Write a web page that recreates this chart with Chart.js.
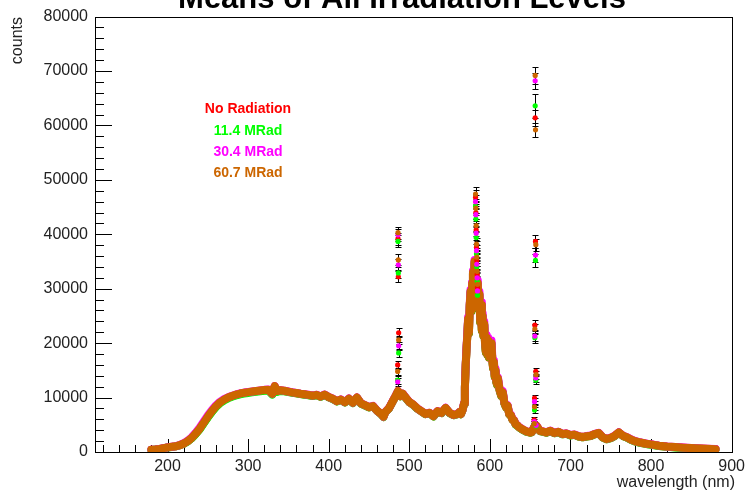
<!DOCTYPE html>
<html><head><meta charset="utf-8">
<script src="https://cdn.jsdelivr.net/npm/chart.js@4.4.0/dist/chart.umd.min.js"></script>
<style>html,body{margin:0;padding:0;background:#fff;}canvas{display:block;}</style>
</head><body>
<canvas id="c" width="750" height="492"></canvas>
<script>
const chartTitle = 'Means of All Irradiation Levels';
const xAxisTitle = 'wavelength (nm)';
const yAxisTitle = 'counts';
const seriesLabels = ['No Radiation', '11.4 MRad', '30.4 MRad', '60.7 MRad'];
const seriesColors = ['#ff0000', '#00ff00', '#ff00ff', '#cc6600'];
const xTickValues = [200, 300, 400, 500, 600, 700, 800, 900];
const yTickValues = [0, 10000, 20000, 30000, 40000, 50000, 60000, 70000, 80000];

// continuum (nm)
const wavelength = [
180,185,190,195,200,205,210,215,220,225,
230,235,240,245,250,255,260,265,270,275,
280,285,290,295,300,305,310,315,320,325,
330,333,336,340,345,350,355,360,365,370,
375,380,385,390,395,400,405,410,415,420,
425,430,435,440,445,450,455,460,465,468,
470,475,480,483,486,489,492,495,500,505,
510,515,520,525,530,535,540,545,550,555,
560,562,564,566,568,569,570,571,572,573,
574,575,576,577,578,579,580,581,582,583,
584,585,586,587,588,589,590,591,592,593,
594,595,596,597,598,599,600,601,602,603,
604,605,606,607,608,609,610,612,614,616,
618,620,622,624,626,628,630,632,634,636,
638,640,645,650,652,655,658,662,665,670,
675,680,685,690,695,700,705,710,715,720,
725,730,735,740,745,750,755,760,765,770,
775,780,785,790,795,800,810,820,830,840,
850,860,870,880];

const countsNoRadiation = [
400,450,540,690,840,940,1040,1230,1530,1950,
2550,3350,4250,5350,6450,7450,8350,9050,9550,9950,
10250,10500,10700,10850,10950,11050,11150,11250,11350,11400,
10650,12050,11150,11300,11200,11050,10900,10800,10650,10550,
10450,10300,10450,10150,10500,10050,9750,9300,9600,9100,
9750,9000,9950,8900,8550,8200,8400,7550,6950,6450,
7250,8050,9450,10250,11150,10250,10650,10050,9150,8650,
7950,7450,6950,7150,6550,7450,7150,8050,7150,6750,
6950,7250,6950,7650,8900,11800,15800,18800,21300,24300,
21800,26800,29300,25800,30800,32800,29800,34800,31800,29300,
27300,30800,26300,28800,23800,26800,22300,24800,21300,23300,
19800,18300,20800,17800,20300,17300,19300,18300,19800,16800,
15300,16300,13800,14800,12800,12300,13300,11300,10300,10800,
8900,8200,8400,6900,6700,5900,5700,5050,4850,4550,
4350,4150,3750,3550,3650,4550,4750,3850,3750,3550,
3850,3450,3650,3250,3350,3050,3150,2850,2700,2850,
2950,3250,3450,2650,2350,2550,2950,3550,2950,2650,
2250,1950,1750,1600,1450,1370,1120,980,880,780,
710,640,570,510];

const counts11_4MRad = [
390,440,530,680,830,930,1030,1220,1510,1940,
2530,3320,4200,5280,6350,7350,8250,8950,9450,9850,
10150,10400,10600,10750,10850,10950,11050,11150,11250,11300,
10550,11950,11050,11220,11150,11020,10880,10780,10630,10530,
10430,10290,10440,10140,10490,10040,9740,9290,9590,9090,
9740,8990,9940,8890,8540,8190,8390,7540,6940,6440,
7240,8040,9440,10240,11140,10240,10640,10040,9140,8640,
7940,7440,6940,7140,6540,7440,7140,8040,7140,6740,
6940,7240,6940,7640,8900,11900,15900,18900,21400,24400,
21900,26900,29400,25900,30900,32900,29900,34900,31900,29400,
27400,30900,26400,28900,23900,26900,22400,24900,21400,23400,
19900,18400,20900,17900,20400,17400,19400,18400,19900,16900,
15400,16400,13900,14900,12900,12400,13400,11400,10400,10900,
8940,8240,8440,6940,6740,5940,5740,5040,4840,4540,
4340,4140,3740,3540,3640,4540,4740,3840,3740,3540,
3840,3440,3640,3240,3340,3040,3140,2840,2690,2840,
2940,3240,3440,2640,2340,2540,2940,3540,2940,2640,
2240,1940,1740,1590,1440,1340,1090,940,840,740,
660,590,520,460];

const counts30_4MRad = [
410,460,560,710,860,960,1070,1280,1600,2080,
2720,3560,4500,5620,6720,7700,8560,9230,9700,10060,
10330,10570,10770,10920,11020,11120,11220,11320,11420,11470,
10720,12120,11220,11370,11270,11120,10970,10870,10720,10620,
10520,10370,10520,10220,10570,10120,9820,9370,9670,9170,
9820,9070,10020,8970,8620,8270,8470,7620,7020,6520,
7320,8120,9520,10320,11220,10320,10720,10120,9220,8720,
8020,7520,7020,7220,6620,7520,7220,8120,7220,6820,
7020,7320,7020,7720,9000,12000,16200,19300,21800,24800,
22300,27300,29800,26500,31300,33300,30500,35300,32500,30000,
28000,31500,27000,29500,24500,27500,23000,25500,22000,24000,
20500,19000,21500,18500,21000,18000,20000,19000,20500,17500,
15800,16800,14300,15300,13200,12700,13700,11700,10700,11200,
9100,8400,8600,7100,6900,6100,5850,5150,4950,4650,
4450,4250,3830,3630,3730,4630,4830,3930,3830,3630,
3930,3530,3730,3330,3430,3130,3230,2930,2780,2930,
3030,3330,3530,2730,2430,2630,3030,3630,3030,2730,
2330,2030,1830,1680,1530,1420,1170,1010,910,810,
730,660,590,530];

const counts60_7MRad = [
400,450,550,700,850,950,1050,1250,1550,2000,
2600,3400,4300,5400,6500,7500,8400,9100,9600,10000,
10300,10550,10750,10900,11000,11100,11200,11300,11400,11450,
10700,12100,11200,11350,11250,11100,10950,10850,10700,10600,
10500,10350,10500,10200,10550,10100,9800,9350,9650,9150,
9800,9050,10000,8950,8600,8250,8450,7600,7000,6500,
7300,8100,9500,10300,11200,10300,10700,10100,9200,8700,
8000,7500,7000,7200,6600,7500,7200,8100,7200,6800,
7000,7300,7000,7700,9000,12000,16000,19000,21500,24500,
22000,27000,29500,26000,31000,33000,30000,35000,32000,29500,
27500,31000,26500,29000,24000,27000,22500,25000,21500,23500,
20000,18500,21000,18000,20500,17500,19500,18500,20000,17000,
15500,16500,14000,15000,13000,12500,13500,11500,10500,11000,
9000,8300,8500,7000,6800,6000,5800,5100,4900,4600,
4400,4200,3800,3600,3700,4600,4800,3900,3800,3600,
3900,3500,3700,3300,3400,3100,3200,2900,2750,2900,
3000,3300,3500,2700,2400,2600,3000,3600,3000,2700,
2300,2000,1800,1650,1500,1400,1150,1000,900,800,
720,650,580,520];

// emission-line pixels (nm) with values and errors
const lineWavelength = [485.6,486.0,486.4,486.8, 582.2,582.6,583.0,583.4,583.8,584.2,584.6, 655.0,655.4,655.8,656.2,656.6,657.0,657.4];
const lineNoRadiation = [16000,39200,32200,21900, 46800,44000,40800,37600,35200,32600,30200, 5900,9900,23300,61400,38700,14800,5000];
const lineNoRadiationErr = [700,1100,1000,800, 1300,1200,1200,1100,1100,1000,1000, 500,600,900,1500,1200,700,400];
const line11_4MRad = [13200,38700,32900,18200, 45200,42800,39400,36400,34000,31400,28800, 5200,7700,21000,63600,35200,13200,4800];
const line11_4MRadErr = [700,1100,1000,800, 1300,1200,1200,1100,1100,1000,1000, 500,600,900,2200,1200,700,400];
const line30_4MRad = [12900,39900,34400,19500, 46000,43600,40200,37000,34500,32000,29600, 5600,9250,21300,68200,36200,13600,4900];
const line30_4MRadErr = [700,1100,1000,800, 1300,1200,1200,1100,1100,1000,1000, 500,600,900,1500,1200,700,400];
const line60_7MRad = [14800,40300,35300,20600, 47400,44800,41600,38200,35800,33200,30800, 5200,8300,22600,69200,59200,38100,14200];
const line60_7MRadErr = [700,1100,1000,800, 1300,1200,1200,1100,1100,1000,1000, 500,600,900,1500,1300,1100,700];

const continua = [countsNoRadiation, counts11_4MRad, counts30_4MRad, counts60_7MRad];
const lines = [lineNoRadiation, line11_4MRad, line30_4MRad, line60_7MRad];
const lineErrs = [lineNoRadiationErr, line11_4MRadErr, line30_4MRadErr, line60_7MRadErr];

const datasets = [];
for (let s = 0; s < 4; s++) {
  datasets.push({
    type: 'scatter', label: seriesLabels[s],
    data: lineWavelength.map((x, i) => ({x: x, y: lines[s][i]})),
    errorValues: lineErrs[s],
    showLine: false, pointRadius: 2.6, pointHoverRadius: 2.6,
    backgroundColor: seriesColors[s], borderWidth: 0, order: 3 - s
  });
  datasets.push({
    type: 'line', label: seriesLabels[s] + ' continuum',
    data: wavelength.map((x, i) => ({x: x, y: continua[s][i]})),
    borderColor: seriesColors[s], borderWidth: 8, pointRadius: 0,
    borderJoinStyle: 'round', borderCapStyle: 'round', tension: 0, fill: false,
    order: 7 - s
  });
}

const errorBars = {
  id: 'errorBars',
  beforeDatasetsDraw(chart) {
    const ctx = chart.ctx, ys = chart.scales.y;
    ctx.save(); ctx.strokeStyle = '#000'; ctx.lineWidth = 1;
    chart.data.datasets.forEach((ds, di) => {
      if (!ds.errorValues) return;
      const meta = chart.getDatasetMeta(di);
      meta.data.forEach((pt, i) => {
        const v = ds.data[i].y, e = ds.errorValues[i];
        const x = Math.round(pt.x) + 0.5;
        const y1 = Math.round(ys.getPixelForValue(v - e)) + 0.5;
        const y2 = Math.round(ys.getPixelForValue(v + e)) + 0.5;
        ctx.beginPath();
        ctx.moveTo(x, y1); ctx.lineTo(x, y2);
        ctx.moveTo(x - 3, y1); ctx.lineTo(x + 3, y1);
        ctx.moveTo(x - 3, y2); ctx.lineTo(x + 3, y2);
        ctx.stroke();
      });
    });
    ctx.restore();
  }
};

const frameTicks = {
  id: 'frameTicks',
  beforeDatasetsDraw(chart) {
    const ctx = chart.ctx, xs = chart.scales.x, ys = chart.scales.y, a = chart.chartArea;
    ctx.save(); ctx.strokeStyle = '#000'; ctx.lineWidth = 1;
    ctx.beginPath();
    for (let v = 120; v <= 900; v += 20) {
      const x = Math.round(xs.getPixelForValue(v)) + 0.5;
      const len = (v % 100 === 0) ? 13 : 7;
      ctx.moveTo(x, a.bottom); ctx.lineTo(x, a.bottom - len);
    }
    for (let v = 0; v <= 80000; v += 2000) {
      const y = Math.round(ys.getPixelForValue(v)) + 0.5;
      const len = (v % 10000 === 0) ? 17 : 9;
      ctx.moveTo(a.left, y); ctx.lineTo(a.left + len, y);
    }
    ctx.stroke();
    ctx.strokeRect(Math.round(a.left) + 0.5, Math.round(a.top) + 0.5, Math.round(a.right - a.left), Math.round(a.bottom - a.top));
    ctx.restore();
  }
};

const texts = {
  id: 'texts',
  afterDraw(chart) {
    const ctx = chart.ctx;
    ctx.save();
    ctx.fillStyle = '#000';
    ctx.font = 'bold 31px "Liberation Sans", Arial, sans-serif';
    ctx.textAlign = 'center'; ctx.textBaseline = 'alphabetic';
    ctx.fillText(chartTitle, 402, 8);
    ctx.fillStyle = '#222';
    ctx.font = '16px "Liberation Sans", Arial, sans-serif';
    ctx.textAlign = 'right';
    ctx.fillText(xAxisTitle, 735, 487);
    ctx.translate(18, 17); ctx.rotate(-Math.PI / 2);
    ctx.textBaseline = 'middle';
    ctx.fillText(yAxisTitle, 0, 0);
    ctx.restore();
    ctx.save();
    ctx.font = 'bold 14px "Liberation Sans", Arial, sans-serif';
    ctx.textAlign = 'center'; ctx.textBaseline = 'middle';
    const ly = [109, 131, 152, 173];
    seriesLabels.forEach((t, i) => { ctx.fillStyle = seriesColors[i]; ctx.fillText(t, 248, ly[i]); });
    ctx.restore();
  }
};

new Chart(document.getElementById('c'), {
  data: { datasets: datasets },
  options: {
    responsive: false, animation: false, devicePixelRatio: 1,
    layout: { padding: { left: 0, right: 16, top: 16, bottom: 0 } },
    plugins: { legend: { display: false }, tooltip: { enabled: false }, title: { display: false } },
    scales: {
      x: {
        type: 'linear', min: 110, max: 900,
        afterBuildTicks: s => { s.ticks = xTickValues.map(v => ({value: v})); },
        afterFit: s => { s.height = 40; },
        grid: { display: false, drawTicks: false }, border: { display: false },
        ticks: { padding: 5, autoSkip: false, maxRotation: 0, color: '#222', font: { family: '"Liberation Sans", Arial, sans-serif', size: 16 } }
      },
      y: {
        type: 'linear', min: 0, max: 80000,
        afterBuildTicks: s => { s.ticks = yTickValues.map(v => ({value: v})); },
        afterFit: s => { s.width = 95; },
        grid: { display: false, drawTicks: false }, border: { display: false },
        ticks: { padding: 7, autoSkip: false, color: '#222', font: { family: '"Liberation Sans", Arial, sans-serif', size: 16 }, callback: v => String(v) }
      }
    }
  },
  plugins: [frameTicks, errorBars, texts]
});
</script>
</body></html>
